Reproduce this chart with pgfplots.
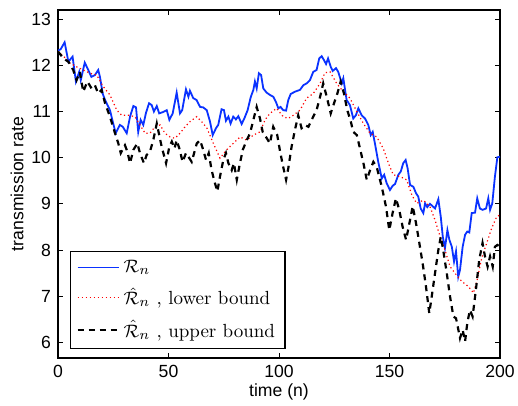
\documentclass[border=0pt]{standalone}
\usepackage{fontspec}
\usepackage{pgfplots}
\pgfplotsset{compat=1.18}
\newfontfamily\helv{Liberation Sans}
\definecolor{mblue}{RGB}{10,50,255}

\begin{document}
\begin{tikzpicture}
\begin{axis}[
  scale only axis,
  width=221pt, height=174pt,
  xmin=0, xmax=200, ymin=5.66, ymax=13.2,
  xtick={0,50,100,150,200},
  ytick={6,7,8,9,10,11,12,13},
  tick align=inside,
  major tick length=2.5pt,
  axis line style={line width=0.6pt},
  every tick/.style={line width=0.5pt,black},
  /pgf/number format/assume math mode=true,
  tick label style={font=\helv\fontsize{8.8}{10}\selectfont},
  label style={font=\helv\fontsize{8.8}{10}\selectfont},
  xlabel={time (n)},
  ylabel={transmission rate},
  xlabel style={yshift=4pt},
  ylabel style={yshift=-3pt},
  legend cell align=left,
  legend style={at={(0.027,0.026)},anchor=south west,
    font=\fontsize{9.5}{11}\selectfont, draw=black, line width=0.6pt,
    row sep=2.3pt, inner xsep=3pt, inner ysep=2pt},
  legend image code/.code={\draw[#1] (0pt,0pt) -- (20.5pt,0pt);},
]
\addplot[mblue, line width=0.9pt] coordinates {
(0,12.32)(1.2,12.35)(3,12.5)(4.7,12.08)(6.6,12.19)(8.1,11.65)(9.6,11.86)(10.3,11.68)(12.1,12.06)(13.7,11.9)(15.1,11.75)(16.7,11.79)(18.2,11.9)(19,11.75)(20.2,11.39)(21.3,11.25)(23.5,11.03)(25,10.74)(26.1,10.53)(28,10.71)(29.3,10.67)(31.1,10.53)(32.6,10.89)(34.1,11.12)(35.3,11.09)(36.3,10.56)(37.4,10.82)(38.6,10.71)(39.8,10.97)(41.2,11.18)(42.4,11.14)(43.4,11.0)(44.7,11.12)(45.8,10.96)(47.6,10.99)(49.2,11.03)(50.4,10.82)(51.9,10.96)(53.7,11.41)(55.2,10.96)(56.2,11.03)(57.9,11.48)(59,11.32)(59.7,11.45)(61.2,11.29)(62.7,11.25)(64.3,11.1)(65.7,11.09)(67.3,11.03)(68.8,10.78)(70,10.49)(71.5,10.64)(72.5,10.71)(74,11.05)(75.1,11.03)(76,10.8)(77.1,10.89)(78.1,10.74)(79.3,10.89)(80.5,10.83)(81.6,10.9)(83.1,10.73)(84.3,10.85)(85.8,11.03)(87.2,11.31)(88.4,11.47)(89.1,11.65)(89.9,11.5)(90.9,11.83)(91.9,11.79)(92.9,11.5)(94.4,11.41)(95.9,11.36)(97.4,11.32)(98.6,11.21)(99.7,11.07)(100.7,11.1)(101.9,11.03)(103.2,11.02)(104.2,11.25)(105.3,11.38)(107.2,11.43)(109.5,11.47)(111,11.57)(112.5,11.61)(114,11.68)(115.5,11.86)(117,11.9)(118.2,12.15)(119.3,12.2)(120.4,12.11)(121.3,12.03)(122.2,12.15)(123.4,11.97)(124.3,11.88)(125.8,11.94)(126.8,11.86)(128.4,11.61)(129.1,11.72)(130.6,11.25)(132.1,11.14)(133.6,10.85)(134.8,10.92)(135.9,11.07)(137.4,10.92)(138.9,10.85)(140.4,10.71)(141.5,10.49)(142.4,10.56)(143.4,10.31)(144.9,9.91)(146.5,9.55)(147.6,9.63)(148.7,9.45)(150.2,9.3)(151.4,9.39)(152.5,9.43)(154,9.63)(155.1,9.7)(156.2,9.88)(157.3,9.95)(158.2,9.77)(159.3,9.41)(160.8,9.37)(162,9.23)(163,9.16)(164.1,8.9)(165.3,8.8)(166.1,9.01)(167.1,8.93)(168.3,9.0)(169.5,8.95)(170.6,8.9)(172.1,9.1)(173.2,8.72)(174.1,8.29)(175.1,8.04)(176.2,8.43)(177.1,8.22)(178.2,8.07)(179.2,7.75)(180.1,7.97)(181.1,7.42)(181.9,7.57)(183.1,8.07)(184.2,8.33)(185.2,8.4)(186.1,8.38)(187.2,8.8)(188.7,8.81)(189.7,9.12)(190.9,8.9)(192.1,8.87)(193.7,8.9)(194.7,9.12)(195.5,8.87)(196.5,9.01)(197.7,9.59)(198.8,10.01)(200,10.02)
};
\addlegendentry{$\mathcal{R}_n$}
\addplot[red, line width=0.6pt, dash pattern=on 0.6pt off 1.4pt] coordinates {
(0,12.3)(2.5,12.2)(5.4,12.05)(8.4,11.97)(11.4,11.9)(14.5,11.83)(17.5,11.79)(20.5,11.54)(23.5,11.36)(26.6,11.03)(28.8,10.92)(31.8,10.92)(34.8,10.89)(37.1,10.71)(39.4,10.53)(41.6,10.53)(43.9,10.67)(46.2,10.71)(48.4,10.53)(50.7,10.45)(52.9,10.42)(55.2,10.53)(57.5,10.67)(59.7,10.78)(62.8,10.89)(65,10.78)(67.3,10.65)(70.3,10.31)(73.3,9.99)(76.3,10.17)(79.3,10.31)(82.4,10.45)(85.4,10.38)(88.4,10.49)(91.4,10.56)(93.7,10.82)(95.9,10.96)(98.9,11.07)(101.9,10.89)(104.2,10.85)(106.5,10.92)(109.5,11.03)(112.5,11.29)(115.5,11.39)(118.6,11.61)(120.8,11.84)(123.1,11.86)(126.1,11.61)(129.1,11.43)(132.1,11.29)(135.2,11.0)(138.2,10.74)(141.2,10.53)(144.2,10.45)(147.2,10.2)(149.5,9.88)(151.7,9.63)(154.8,9.59)(157.8,9.52)(160.1,9.19)(162.3,9.01)(165.3,9.08)(168.3,8.94)(170.6,8.65)(172.9,8.29)(175.1,8.0)(177.4,7.64)(179.6,7.5)(182.7,7.32)(185.7,7.21)(188,7.07)(189.5,7.32)(191.7,7.82)(194,8.15)(196.2,8.47)(198.5,8.72)(200,8.76)
};
\addlegendentry{$\hat{\mathcal{R}}_n$ , lower bound}
\addplot[black, line width=1.1pt, dash pattern=on 3pt off 2.5pt] coordinates {
(0,12.3)(2.5,12.15)(4.7,12.08)(6.9,11.9)(8.4,11.68)(9.9,11.86)(11.4,11.43)(13.3,11.65)(15.2,11.5)(16.7,11.57)(18.2,11.39)(19.7,11.47)(21.3,11.18)(23.5,10.89)(25.8,10.53)(27.3,10.31)(28.4,10.1)(30.3,10.27)(31.4,10.13)(32.6,9.88)(34.1,10.17)(35.9,10.31)(37.1,10.1)(38.9,9.88)(40.1,10.06)(41.6,10.13)(43.1,10.38)(44.7,10.74)(46.9,10.24)(48.9,9.88)(50.4,10.24)(51.5,10.35)(52.7,10.2)(53.7,10.38)(54.9,10.2)(56.4,9.91)(57.9,10.1)(59,10.02)(60.5,9.91)(62.8,10.31)(64.3,10.38)(65.5,10.2)(67,9.95)(68.2,10.1)(69.5,9.73)(71,9.45)(72.1,9.27)(73.3,9.59)(74.8,9.95)(76,10.1)(77.1,9.88)(78.6,9.73)(79.6,9.88)(80.9,9.52)(82,9.8)(83.6,10.17)(85.4,10.38)(86.9,10.53)(88.4,10.82)(89.9,11.1)(91.4,10.85)(92.6,10.56)(94.1,10.45)(95.9,10.31)(97.4,10.67)(99.2,10.49)(100.5,10.13)(101.9,9.8)(103.2,9.52)(104.2,9.77)(105.7,10.24)(107.2,10.6)(108.7,10.92)(110.2,10.64)(111.7,10.71)(113.3,10.67)(115.5,10.89)(117,11.03)(118.6,11.32)(120,11.61)(121.6,11.32)(123.4,10.96)(124.9,11.18)(126.4,11.39)(127.9,11.65)(129.4,11.39)(130.9,11.03)(132.4,10.8)(133.6,10.56)(135.2,10.49)(136.3,10.27)(138.2,9.88)(139.7,9.52)(141.2,9.73)(142.7,9.91)(144.2,9.8)(146.5,9.37)(148.4,8.94)(149.9,8.43)(151.4,8.8)(152.9,9.12)(154.4,8.87)(155.9,8.51)(157.5,8.22)(159,8.58)(160.5,8.95)(162,8.58)(163.5,8.15)(165,7.71)(166.5,7.21)(168,6.63)(169.1,6.99)(170.6,7.5)(172.1,8.0)(173.2,8.29)(174.3,8.0)(175.9,7.5)(177.4,6.99)(178.9,6.56)(180.1,6.52)(180.7,6.38)(181.9,6.09)(183.1,6.27)(184.2,6.02)(185.2,6.42)(186.4,6.7)(187.6,6.56)(189.1,7.14)(190.6,7.79)(192.1,8.15)(193.2,7.86)(194.4,7.64)(195.5,7.86)(196.7,7.64)(197.7,8.07)(198.8,8.11)(200,8.07)
};
\addlegendentry{$\hat{\mathcal{R}}_n$ , upper bound}
\end{axis}
\pgfresetboundingbox
\path ([xshift=-29pt,yshift=-23.5pt]current axis.south west) rectangle ([xshift=9pt,yshift=5pt]current axis.north east);
\end{tikzpicture}
\end{document}
